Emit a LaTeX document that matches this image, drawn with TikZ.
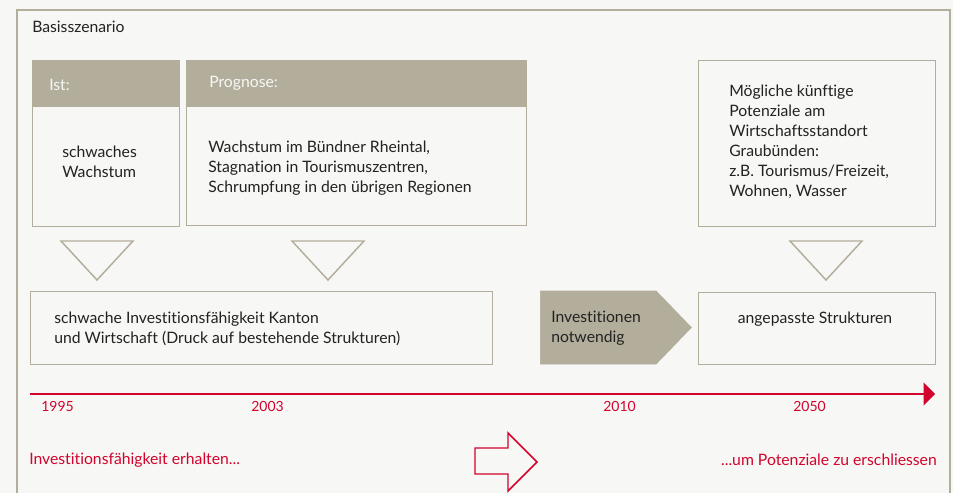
\documentclass[tikz,border=0pt]{standalone}
\usepackage{fontspec}
\setmainfont{Lato}[Ligatures=NoCommon]
\usetikzlibrary{positioning,shapes.symbols,arrows.meta}

\definecolor{framegray}{HTML}{B3AE9B}
\definecolor{paper}{HTML}{F7F7F5}
\definecolor{ink}{HTML}{222222}
\definecolor{timered}{HTML}{D2042D}

\tikzset{
    box/.style={draw=framegray, line width=1.1pt, fill=paper, inner sep=0pt, anchor=north west},
    headbar/.style={draw=framegray, line width=1.1pt, fill=framegray, inner sep=0pt, anchor=north west},
    txt/.style={anchor=west, align=left, inner sep=0pt, text=ink,
        font=\fontsize{11.8}{15}\selectfont},
    headtxt/.style={txt, text=paper},
    redtxt/.style={txt, text=timered},
    yeartxt/.style={txt, text=timered, font=\fontsize{10.5}{12}\selectfont},
    tri/.style={draw=framegray, line width=1.1pt},
}

\begin{document}
\begin{tikzpicture}[x=0.75pt,y=-0.75pt]
    \useasboundingbox[fill=paper] (0,0) rectangle (953,493);
    % outer frame
    \draw[framegray, line width=1.1pt] (17,493) -- (17,10) -- (950,10) -- (950,493);
    \node[txt] (title) at (32,27) {Basisszenario};

    % upper boxes
    \node[box, minimum width=110.25pt, minimum height=124.5pt] (ist) at (32,60) {};
    \node[headbar, minimum width=110.25pt, minimum height=34.5pt] (ist head) at (32,60) {};
    \node[headtxt] (ist label) at (49,85) {Ist:};
    \node[txt] (ist text) at (62,162) {schwaches\\Wachstum};

    \node[box, minimum width=255pt, minimum height=123.75pt] (prognose) at (186,60) {};
    \node[headbar, minimum width=255pt, minimum height=34.5pt] (prognose head) at (186,60) {};
    \node[headtxt] (prognose label) at (209,83) {Prognose:};
    \node[txt] (prognose text) at (208,168.5) {Wachstum im Bündner Rheintal,\\Stagnation in Tourismuszentren,\\Schrumpfung in den übrigen Regionen};

    \node[box, minimum width=177.75pt, minimum height=124.5pt] (potenzial) at (698,60) {};
    \node[txt] (potenzial text) at (729,142) {Mögliche künftige\\Potenziale am\\Wirtschaftsstandort\\Graubünden:\\z.B. Tourismus/Freizeit,\\Wohnen, Wasser};

    % down triangles
    \foreach \c in {97,328,826}
        \draw[tri] (\c-36,241) -- (\c+36,241) -- (\c,280) -- cycle;

    % lower boxes
    \node[box, minimum width=346.5pt, minimum height=54.75pt] (druck) at (30,291) {};
    \node[txt] (druck text) at (54,328.5) {schwache Investitionsfähigkeit Kanton\\und Wirtschaft (Druck auf bestehende Strukturen)};

    \node[signal, signal to=east, signal pointer angle=92, fill=framegray, draw=framegray,
        line width=0.5pt, inner sep=0pt, minimum width=113.25pt, minimum height=54.75pt,
        anchor=west] (invest) at (540,327.5) {};
    \node[txt] (invest text) at (551,328.5) {Investitionen\\notwendig};

    \node[box, minimum width=177.75pt, minimum height=54pt] (strukturen) at (698,292) {};
    \node[txt, anchor=center] (strukturen text) at (815,319) {angepasste Strukturen};

    % timeline
    \coordinate (t start) at (30,394);
    \coordinate (t end) at (935,394);
    \draw[timered, line width=1.5pt, -{Triangle[length=8.5pt,width=17pt]}] (t start) -- (t end);
    \node[yeartxt] (y1995) at (41,406) {1995};
    \node[yeartxt] (y2003) at (251,406) {2003};
    \node[yeartxt] (y2010) at (603,406) {2010};
    \node[yeartxt] (y2050) at (793,406) {2050};

    % bottom line
    \node[redtxt] (erhalten) at (29,460) {Investitionsfähigkeit erhalten...};
    \node[redtxt, anchor=east] (erschliessen) at (937,460) {...um Potenziale zu erschliessen};
    \draw[timered, line width=1.1pt, fill=paper]
        (475,448) -- (508,448) -- (508,433) -- (537,462) -- (508,491) -- (508,474) -- (475,474) -- cycle;
\end{tikzpicture}
\end{document}
